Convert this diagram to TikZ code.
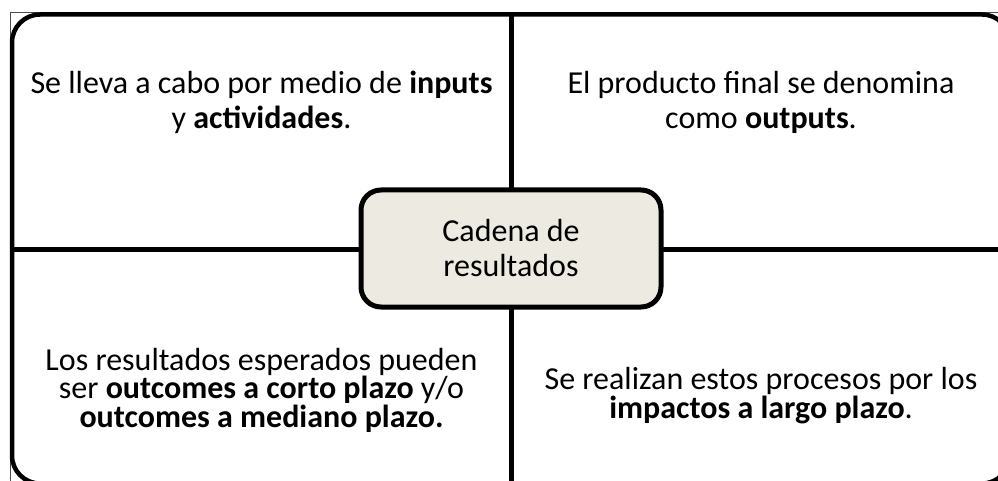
\documentclass[tikz,border=0pt]{standalone}
\usepackage{fontspec}
\setmainfont{Carlito}
\lineskiplimit=-60pt
\definecolor{boxfill}{HTML}{EDEBE1}
\begin{document}
\begin{tikzpicture}[x=1pt,y=-1pt,
  frame/.style={line width=4.5pt, rounded corners=28pt},
  divider/.style={line width=5pt},
  thinframe/.style={line width=0.8pt, black!70},
  centerbox/.style={draw, line width=5pt, fill=boxfill, rounded corners=20pt,
    minimum width=300pt, minimum height=117pt, inner sep=0pt},
  qtext/.style={align=center, inner sep=0pt, anchor=base, font=\fontsize{32}{35}\selectfont},
  qtextb/.style={align=center, inner sep=0pt, anchor=base, font=\fontsize{32}{28.5}\selectfont}
]
\useasboundingbox (0,0) rectangle (998,481);
\clip (0,0) rectangle (998,481);
\draw[thinframe] (10,12.5) rectangle (1030,500);
\fill[white] (12,14.5) [rounded corners=28pt] rectangle (1010,483.5);
\draw[frame] (12,14.5) rectangle (1010,483.5);
\coordinate (vt) at (511,14.5);
\coordinate (vb) at (511,483.5);
\coordinate (hl) at (12,249);
\coordinate (hr) at (1010,249);
\draw[divider] (vt) -- (vb);
\draw[divider] (hl) -- (hr);
\node[centerbox] (center) at (511,248.5) {};
\node[qtext] (centerlabel) at (511,276.7) {Cadena de\\resultados};
\node[qtext] (tl) at (261.5,128.3) {Se lleva a cabo por medio de \textbf{inputs}\\y \textbf{actividades}.};
\node[qtext] (tr) at (761,128.3) {El producto final se denomina\\como \textbf{outputs}.};
\node[qtextb] (bl) at (261.5,427) {Los resultados esperados pueden\\ser \textbf{outcomes a corto plazo} y/o\\\textbf{outcomes a mediano plazo.}};
\node[qtextb] (br) at (761,418) {Se realizan estos procesos por los\\\textbf{impactos a largo plazo}.};
\end{tikzpicture}
\end{document}
